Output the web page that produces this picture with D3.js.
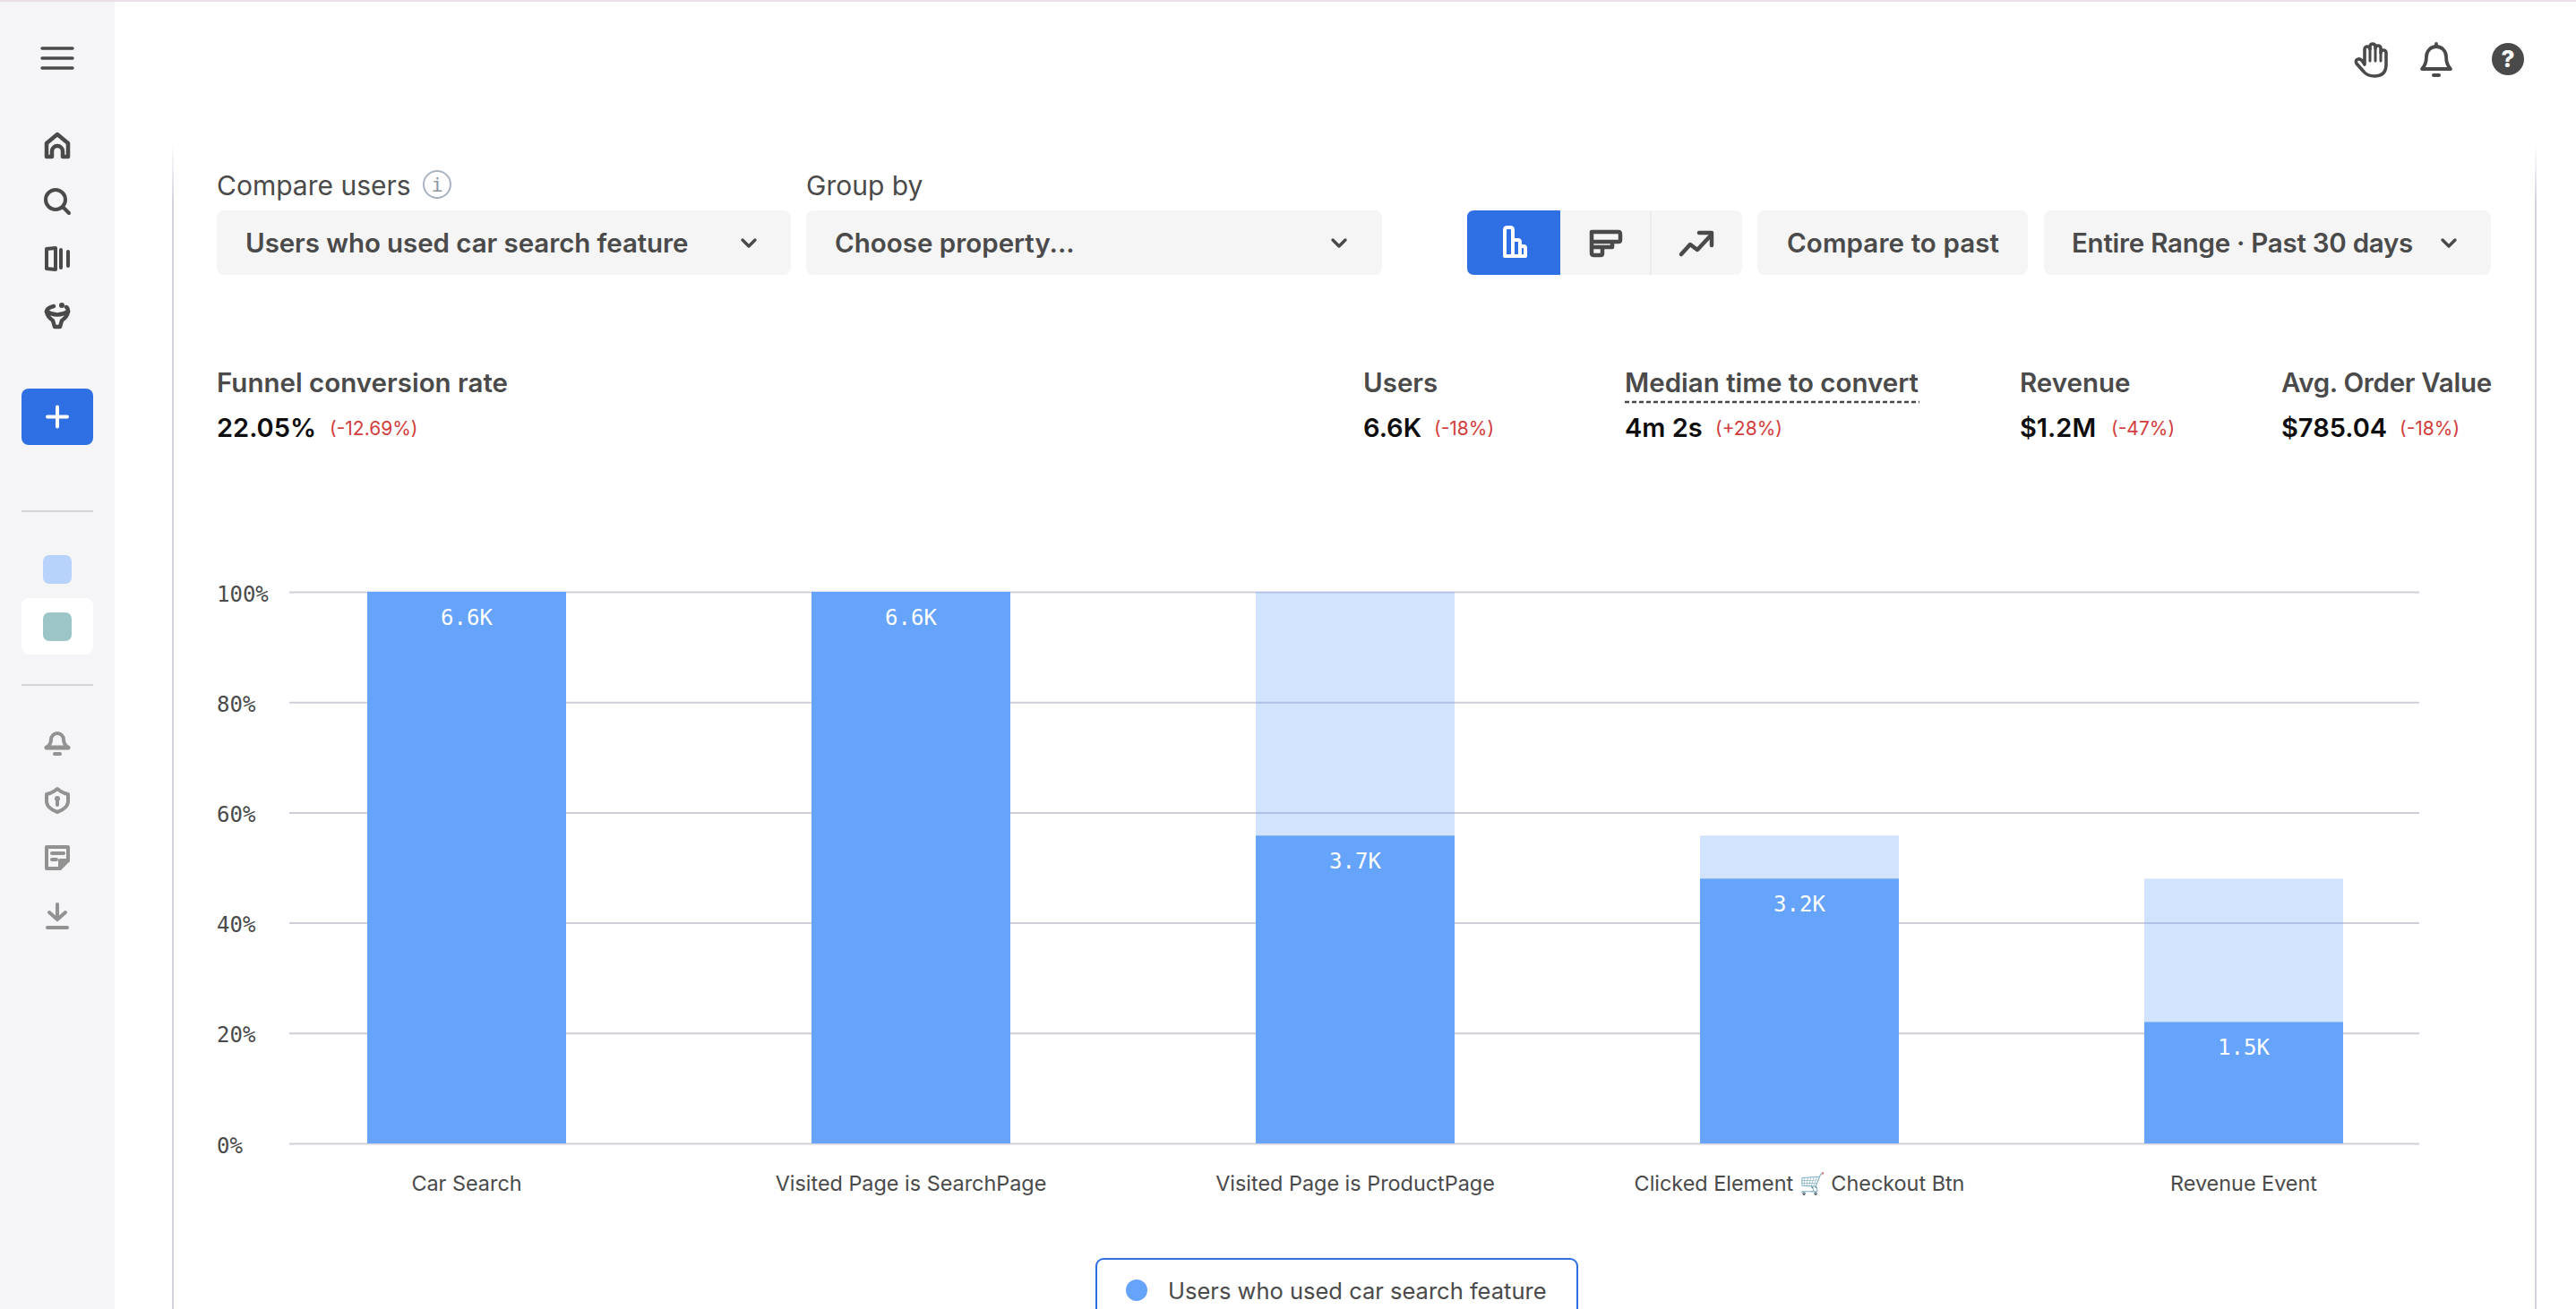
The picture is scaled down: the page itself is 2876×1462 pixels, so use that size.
<!DOCTYPE html>
<html>
<head>
<meta charset="utf-8">
<script src="https://cdn.jsdelivr.net/npm/d3@7"></script>
<style>
  html, body { margin: 0; padding: 0; background: #fff; overflow: hidden; }
  svg { display: block; }
  text { font-family: "Inter", "Noto Sans", sans-serif; }
  .mono, .mono text { font-family: "DejaVu Sans Mono", "Liberation Mono", monospace; }
</style>
</head>
<body>
<svg id="chart" width="2876" height="1462"></svg>
<script>
// funnel steps
const categories = ['Car Search', 'Visited Page is SearchPage', 'Visited Page is ProductPage', 'Clicked Element 🛒 Checkout Btn', 'Revenue Event'];
// % of users who reached the step
const conversion = [100, 100, 55.8, 48, 22];
// % of users who reached the step before (light part of the bar)
const previousStep = [100, 100, 100, 55.8, 48];
const barLabels = ['6.6K', '6.6K', '3.7K', '3.2K', '1.5K'];
const yTicks = [0, 20, 40, 60, 80, 100];
const legendLabel = 'Users who used car search feature';

// numbers above the chart
const statNames = ['Funnel conversion rate', 'Users', 'Median time to convert', 'Revenue', 'Avg. Order Value'];
const statValues = ['22.05%', '6.6K', '4m 2s', '$1.2M', '$785.04'];
const statDeltas = ['(-12.69%)', '(-18%)', '(+28%)', '(-47%)', '(-18%)'];
const statX = [242, 1522, 1814, 2255, 2547];
const deltaX = [368, 1601, 1915, 2357, 2679];
const statSpacing = [0, 0, 0, 0, -0.3];

const DARK = '#4a4a4a';
const GREY = '#929292';
const BLUE = '#2f6fe4';
const BAR = '#66a3fa';
const CONTROL = '#f5f5f5';
const GRID = '#cfcfdc';

const svg = d3.select('#chart');

// ---- page frame ----
svg.append('rect').attr('width', 2876).attr('height', 2).attr('fill', '#e8dfe8');
svg.append('rect').attr('y', 2).attr('width', 128).attr('height', 1460).attr('fill', '#f5f5f8');

const cardGrad = svg.append('defs').append('linearGradient')
  .attr('id', 'cardEdge').attr('x1', 0).attr('x2', 0).attr('y1', 0).attr('y2', 1);
cardGrad.append('stop').attr('offset', 0).attr('stop-color', '#d4d4e0').attr('stop-opacity', 0);
cardGrad.append('stop').attr('offset', 0.05).attr('stop-color', '#d4d4e0');
svg.append('rect').attr('x', 192).attr('y', 160).attr('width', 2).attr('height', 1302).attr('fill', 'url(#cardEdge)');
svg.append('rect').attr('x', 2830).attr('y', 160).attr('width', 2).attr('height', 1302).attr('fill', 'url(#cardEdge)');

// ---- sidebar ----
const side = svg.append('g');
function icon(parent, x, y, color, draw) {
  const g = parent.append('g').attr('transform', `translate(${x},${y})`)
    .attr('fill', 'none').attr('stroke', color).attr('stroke-width', 4)
    .attr('stroke-linecap', 'round').attr('stroke-linejoin', 'round');
  draw(g, color);
  return g;
}

icon(side, 64, 65, DARK, g => {
  g.attr('stroke-width', 3.4);
  [-11, 0, 11].forEach(dy => g.append('line').attr('x1', -17).attr('x2', 17).attr('y1', dy).attr('y2', dy));
});
icon(side, 64, 163, DARK, g => {
  g.attr('stroke-width', 4.5);
  g.append('path').attr('d', 'M-12,-3 L0,-13 L12,-3 V12 H6 V6 A6,6 0 0 0 -6,6 V12 H-12 Z');
});
icon(side, 64, 225, DARK, g => {
  g.append('circle').attr('cx', -2).attr('cy', -2).attr('r', 11);
  g.append('line').attr('x1', 7).attr('y1', 7).attr('x2', 13).attr('y2', 13);
});
icon(side, 64, 289, DARK, g => {
  g.append('path').attr('d', 'M-12,-11 L-2,-12 V12 L-12,11 Z');
  g.append('line').attr('x1', 4).attr('x2', 4).attr('y1', -10).attr('y2', 10);
  g.append('line').attr('x1', 12).attr('x2', 12).attr('y1', -8).attr('y2', 8);
});
icon(side, 64, 353, DARK, g => {
  g.attr('stroke-width', 4.5);
  g.append('path').attr('d', 'M-12,-5 Q-12,-9 -4,-11 M12,-5 Q12,-9 10,-10');
  g.append('path').attr('d', 'M-12,-5 Q0,2 12,-5');
  g.append('path').attr('d', 'M-12,-5 Q-11,1 -5,5 L-3,12 H3 L5,5 Q11,1 12,-5');
  g.append('circle').attr('cx', 5).attr('cy', -12).attr('r', 3).attr('fill', DARK).attr('stroke', 'none');
});

side.append('rect').attr('x', 24).attr('y', 434).attr('width', 80).attr('height', 63).attr('rx', 8).attr('fill', BLUE);
icon(side, 64, 465.5, '#fff', g => {
  g.append('line').attr('x1', -11).attr('x2', 11).attr('y1', 0).attr('y2', 0);
  g.append('line').attr('x1', 0).attr('x2', 0).attr('y1', -11).attr('y2', 11);
});
side.append('rect').attr('x', 24).attr('y', 570).attr('width', 80).attr('height', 2).attr('fill', '#d4d4dc');
side.append('rect').attr('x', 48).attr('y', 620).attr('width', 32).attr('height', 32).attr('rx', 7).attr('fill', '#b7d3fb');
side.append('rect').attr('x', 24).attr('y', 668).attr('width', 80).attr('height', 63).attr('rx', 8).attr('fill', '#fff');
side.append('rect').attr('x', 48).attr('y', 684).attr('width', 32).attr('height', 32).attr('rx', 7).attr('fill', '#9cc6c6');
side.append('rect').attr('x', 24).attr('y', 764).attr('width', 80).attr('height', 2).attr('fill', '#d4d4dc');

icon(side, 64, 829, GREY, g => {
  g.append('path').attr('d', 'M-12,6 H12 Q7,2 7,-3 A7,7 0 0 0 -7,-3 Q-7,2 -12,6 Z');
  g.append('path').attr('d', 'M-12,6 H12').attr('stroke-width', 5);
  g.append('line').attr('x1', -3).attr('x2', 3).attr('y1', 13).attr('y2', 13);
});
icon(side, 64, 894, GREY, g => {
  g.append('path').attr('d', 'M0,-13 Q6,-8 12,-7 V2 Q11,9 0,13 Q-11,9 -12,2 V-7 Q-6,-8 0,-13 Z');
  g.append('circle').attr('cx', 0).attr('cy', -2).attr('r', 3).attr('fill', GREY).attr('stroke', 'none');
  g.append('line').attr('x1', 0).attr('x2', 0).attr('y1', -1).attr('y2', 5);
});
icon(side, 64, 958, GREY, g => {
  g.append('path').attr('d', 'M-12,-12 H12 V3 L3,12 H-12 Z');
  g.append('path').attr('d', 'M12,3 L3,3 L3,12').attr('fill', GREY);
  g.append('line').attr('x1', -6).attr('x2', 7).attr('y1', -5).attr('y2', -5);
  g.append('line').attr('x1', -6).attr('x2', -1).attr('y1', 2).attr('y2', 2);
});
icon(side, 64, 1022, GREY, g => {
  g.append('line').attr('x1', 0).attr('x2', 0).attr('y1', -12).attr('y2', 3);
  g.append('path').attr('d', 'M-9,-3 L0,5 L9,-3');
  g.append('line').attr('x1', -11).attr('x2', 11).attr('y1', 14).attr('y2', 14);
});

// ---- top right icons ----
icon(svg, 2648, 66, DARK, g => {
  g.attr('stroke-width', 3.6);
  g.append('path').attr('d', 'M-8,6 V-11 A3,3 0 0 1 -2,-11 V-14 A3,3 0 0 1 4,-14 V-12 A3,3 0 0 1 10,-12 V-7 A3,3 0 0 1 16,-7 V6 Q16,19 3,19 Q-5,19 -9,14 L-17,5 Q-19,1 -15,0 Q-12,-1 -8,6 Z');
  g.append('path').attr('d', 'M-2,-11 V2 M4,-12 V2 M10,-7 V2').attr('stroke-width', 3);
});
icon(svg, 2720, 66, DARK, g => {
  g.attr('stroke-width', 3.8);
  g.append('path').attr('d', 'M-16,11 H16 Q11,6 11,-3 A11,11 0 0 0 -11,-3 Q-11,6 -16,11 Z');
  g.append('line').attr('x1', 0).attr('x2', 0).attr('y1', -15).attr('y2', -17);
  g.append('line').attr('x1', -3).attr('x2', 3).attr('y1', 18).attr('y2', 18).attr('stroke-width', 4);
});
svg.append('circle').attr('cx', 2800).attr('cy', 66).attr('r', 18).attr('fill', DARK);
svg.append('text').attr('x', 2800).attr('y', 75).attr('text-anchor', 'middle')
  .attr('font-size', 26).attr('font-weight', 800).attr('fill', '#fff').text('?');

// ---- controls ----
function control(x, w, label, textX, chevX, spacing) {
  svg.append('rect').attr('x', x).attr('y', 235).attr('width', w).attr('height', 72).attr('rx', 8).attr('fill', CONTROL);
  svg.append('text').attr('x', textX).attr('y', 282).attr('font-size', 29.5).attr('font-weight', 600)
    .attr('letter-spacing', spacing).attr('fill', DARK).text(label);
  if (chevX) {
    svg.append('path').attr('d', `M${chevX - 7},268 L${chevX},275 L${chevX + 7},268`)
      .attr('fill', 'none').attr('stroke', DARK).attr('stroke-width', 3.4)
      .attr('stroke-linecap', 'round').attr('stroke-linejoin', 'round');
  }
}
svg.append('text').attr('x', 242).attr('y', 218).attr('font-size', 30).attr('fill', DARK).text('Compare users');
svg.append('circle').attr('cx', 488).attr('cy', 206).attr('r', 15).attr('fill', 'none').attr('stroke', '#a9b2bf').attr('stroke-width', 2);
svg.append('text').attr('x', 488).attr('y', 214).attr('text-anchor', 'middle').attr('font-size', 22)
  .attr('fill', '#8d97a5').attr('class', 'mono').text('i');
svg.append('text').attr('x', 900).attr('y', 218).attr('font-size', 30).attr('fill', DARK).text('Group by');

control(242, 641, 'Users who used car search feature', 274, 836, -0.08);
control(900, 643, 'Choose property...', 932, 1495, 0);
control(1962, 302, 'Compare to past', 1995, null, 0.1);
control(2282, 499, 'Entire Range · Past 30 days', 2313, 2734, -0.26);

// chart type switch
svg.append('rect').attr('x', 1638).attr('y', 235).attr('width', 307).attr('height', 72).attr('rx', 8).attr('fill', CONTROL);
svg.append('path').attr('d', 'M1646,235 H1742 V307 H1646 Q1638,307 1638,299 V243 Q1638,235 1646,235 Z').attr('fill', BLUE);
svg.append('rect').attr('x', 1842).attr('y', 235).attr('width', 2).attr('height', 72).attr('fill', '#ececec');
icon(svg, 1690, 271, '#fff', g => {
  g.append('path').attr('d', 'M-10,15 V-14 Q-10,-17 -7,-17 H-4 Q-1,-17 -1,-14 V15 Z M-1,-3 H5 Q7,-3 7,0 V15 M7,4 H11 Q13,4 13,6 V15 H-10');
});
icon(svg, 1792, 271, DARK, g => {
  g.attr('stroke-width', 4.5);
  g.append('path').attr('d', 'M-15,-12 H15 Q17,-12 17,-9 V-3 Q17,-1 15,-1 H-15 V12 Q-15,14 -12,14 H-5 Q-3,14 -3,12 V5 H8 V-1 M-15,-12 Q-15,-12 -15,-9 V-1 M-15,5 H-3');
});
icon(svg, 1894, 271, DARK, g => {
  g.attr('stroke-width', 4.5);
  g.append('path').attr('d', 'M-17,13 L-7,2 L1,8 L15,-7');
  g.append('path').attr('d', 'M3,-11 H17 V3');
});

// ---- stats row ----
statNames.forEach((name, i) => {
  svg.append('text').attr('x', statX[i]).attr('y', 438).attr('font-size', 29.5).attr('font-weight', 600)
    .attr('letter-spacing', statSpacing[i]).attr('fill', DARK).text(name);
  svg.append('text').attr('x', statX[i]).attr('y', 488).attr('font-size', 29).attr('font-weight', 600)
    .attr('fill', '#0d0d0d').text(statValues[i]);
  svg.append('text').attr('x', deltaX[i]).attr('y', 486).attr('font-size', 21)
    .attr('fill', '#d13c3c').text(statDeltas[i]);
});
svg.append('line').attr('x1', 1814).attr('x2', 2143).attr('y1', 449).attr('y2', 449)
  .attr('stroke', DARK).attr('stroke-width', 2.5).attr('stroke-dasharray', '5 3');

// ---- chart ----
const x = d3.scaleBand().domain(categories).range([273, 2753]).paddingInner(0.5524).paddingOuter(0.2762);
const y = d3.scaleLinear().domain([0, 100]).range([1277, 661]);

const yAxis = svg.append('g').attr('class', 'mono').attr('transform', 'translate(323,0)')
  .call(d3.axisLeft(y).tickValues(yTicks).tickFormat(d => d + '%').tickSize(-2378));
yAxis.select('.domain').remove();
yAxis.selectAll('.tick line').attr('stroke', GRID).attr('stroke-width', 2);
yAxis.selectAll('.tick text').attr('x', -81).attr('dy', 10).attr('text-anchor', 'start')
  .attr('font-size', 24).attr('fill', DARK)
  .style('font-family', '"DejaVu Sans Mono", "Liberation Mono", monospace');

const xAxis = svg.append('g').attr('transform', 'translate(0,1277)')
  .call(d3.axisBottom(x).tickSize(0));
xAxis.select('.domain').remove();
xAxis.selectAll('.tick text').attr('y', 53).attr('dy', 0).attr('font-size', 23.4).attr('fill', DARK)
  .style('font-family', '"Inter", "Noto Sans", sans-serif');

svg.append('g').selectAll('rect').data(categories).join('rect')
  .attr('x', d => x(d)).attr('width', x.bandwidth())
  .attr('y', (d, i) => y(previousStep[i]))
  .attr('height', (d, i) => y(0) - y(previousStep[i]))
  .attr('fill', BAR).attr('fill-opacity', 0.3);

svg.append('g').selectAll('rect').data(categories).join('rect')
  .attr('x', d => x(d)).attr('width', x.bandwidth())
  .attr('y', (d, i) => y(conversion[i]))
  .attr('height', (d, i) => y(0) - y(conversion[i]))
  .attr('fill', BAR);

svg.append('g').selectAll('text').data(categories).join('text')
  .attr('class', 'mono')
  .attr('x', d => x(d) + x.bandwidth() / 2)
  .attr('y', (d, i) => y(conversion[i]) + 37)
  .attr('text-anchor', 'middle').attr('font-size', 24).attr('fill', '#fff')
  .text((d, i) => barLabels[i]);

// ---- legend (cut off by the bottom of the page) ----
svg.append('rect').attr('x', 1224).attr('y', 1406).attr('width', 537).attr('height', 100).attr('rx', 8)
  .attr('fill', '#fff').attr('stroke', BLUE).attr('stroke-width', 2);
svg.append('circle').attr('cx', 1269).attr('cy', 1441).attr('r', 12).attr('fill', BAR);
svg.append('text').attr('x', 1304).attr('y', 1451).attr('font-size', 25.5).attr('fill', DARK).text(legendLabel);
</script>
</body>
</html>
